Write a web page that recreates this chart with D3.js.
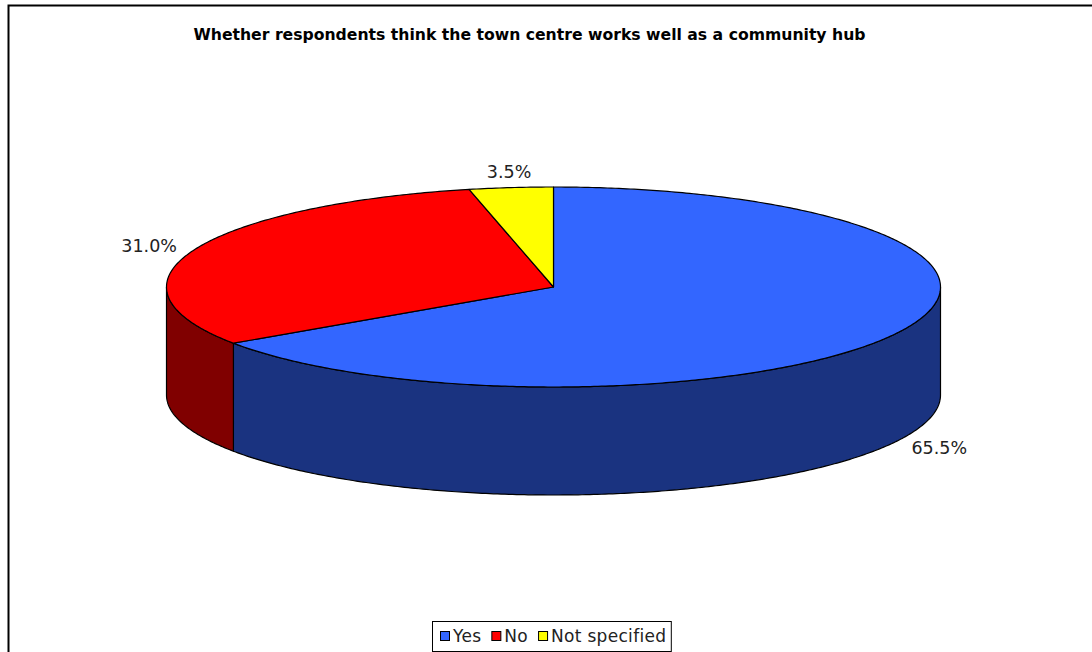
<!DOCTYPE html>
<html><head><meta charset="utf-8">
<script src="https://cdn.jsdelivr.net/npm/d3@7"></script>
<style>body{margin:0;background:#fff}svg{display:block}</style>
</head><body>
<script>
const title = "Whether respondents think the town centre works well as a community hub";
const categories = ["Yes", "No", "Not specified"];
const values = [65.5, 31.0, 3.5];
const labels = ["65.5%", "31.0%", "3.5%"];
const topColors = ["#3366FF", "#FF0000", "#FFFF00"];
const sideColors = ["#1A3380", "#800000", "#808000"];

const W = 1092, H = 652;
const svg = d3.select("body").append("svg").attr("width", W).attr("height", H);
svg.append("rect").attr("x", 8.5).attr("y", 5.5).attr("width", W + 10).attr("height", H + 10)
  .attr("fill", "#fff").attr("stroke", "#000").attr("stroke-width", 2);

svg.append("text").attr("x", 529.5).attr("y", 40).attr("text-anchor", "middle")
  .attr("font-family", "DejaVu Sans").attr("font-weight", "bold").attr("font-size", 15.5)
  .attr("textLength", 672).attr("lengthAdjust", "spacingAndGlyphs")
  .text(title);

const cx = 553.5, cy = 287, rx = 387, ry = 100, depth = 108;
const pie = d3.pie().sort(null).value(d => d)(values);
const px = d3.scaleLinear().domain([-1, 1]).range([cx - rx, cx + rx]);
const py = d3.scaleLinear().domain([-1, 1]).range([cy - ry, cy + ry]);
const pt = (a, dz = 0) => [px(Math.sin(a)), py(-Math.cos(a)) + dz];
const arcPts = (a0, a1, dz = 0) => {
  const n = Math.max(2, Math.ceil((a1 - a0) / 0.01));
  return d3.range(n + 1).map(i => pt(a0 + (a1 - a0) * i / n, dz));
};

pie.forEach((s, i) => {
  const a0 = Math.max(s.startAngle, Math.PI / 2), a1 = Math.min(s.endAngle, 3 * Math.PI / 2);
  if (a1 <= a0) return;
  const pts = arcPts(a0, a1).concat(arcPts(a0, a1, depth).reverse());
  svg.append("path").attr("d", d3.line()(pts) + "Z")
    .attr("fill", sideColors[i]).attr("stroke", "#000").attr("stroke-width", 1.2)
    .attr("stroke-linejoin", "round");
});
pie.forEach((s, i) => {
  const pts = [[cx, cy]].concat(arcPts(s.startAngle, s.endAngle));
  svg.append("path").attr("d", d3.line()(pts) + "Z")
    .attr("fill", topColors[i]).attr("stroke", "#000").attr("stroke-width", 1.2)
    .attr("stroke-linejoin", "round");
});
const lx = d3.scaleLinear().domain([-1, 1]).range([cx - rx - 18, cx + rx + 18]);
const ly = d3.scaleLinear().domain([-1, 1]).range([cy - ry - 12, cy + ry + 12]);
pie.forEach((s, i) => {
  const a = (s.startAngle + s.endAngle) / 2;
  const sn = Math.sin(a), cs = -Math.cos(a);
  const front = cs > 0 ? depth : 0;
  const top = cs < -0.9 ? -4 : 0;
  svg.append("text").attr("x", lx(sn)).attr("y", ly(cs) + front + top).attr("dy", "0.35em")
    .attr("text-anchor", sn > 0.2 ? "start" : (sn < -0.2 ? "end" : "middle"))
    .attr("font-family", "DejaVu Sans").attr("font-size", 17.5).attr("fill", "#222")
    .text(labels[i]);
});

const lg = svg.append("g");
const fs = 17;
let x = 440;
categories.forEach((c, i) => {
  const g = lg.append("g");
  g.append("rect").attr("x", x + 0.5).attr("y", 631.5).attr("width", 9).attr("height", 9)
    .attr("fill", topColors[i]).attr("stroke", "#000").attr("stroke-width", 1);
  const t = g.append("text").attr("x", x + 13).attr("y", 642)
    .attr("font-family", "DejaVu Sans").attr("font-size", fs).attr("letter-spacing", 0.3)
    .attr("fill", "#222").text(c);
  x += 13 + t.node().getComputedTextLength() + 10;
});
lg.insert("rect", ":first-child").attr("x", 432.5).attr("y", 621.5).attr("width", x - 432.5 - 5).attr("height", 30)
  .attr("fill", "#fff").attr("stroke", "#000").attr("stroke-width", 1);
</script>
</body></html>
